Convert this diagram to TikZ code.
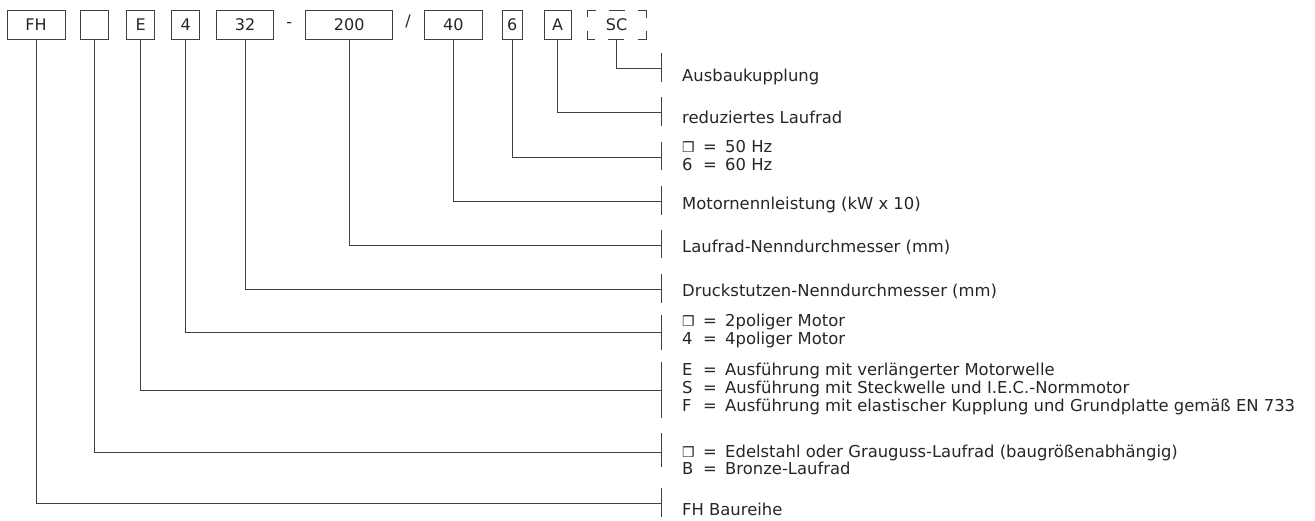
\documentclass[tikz,border=0pt]{standalone}
\usepackage{fontspec}
\setmainfont{DejaVu Sans}
\usepackage{tikz}
\usetikzlibrary{positioning}

\newcommand{\sq}{{\fontsize{14}{14}\selectfont ❒}}
\newcommand{\keyline}[2]{\makebox[21pt][l]{#1}=\hspace{8.3pt}#2}
\newcommand{\rows}[1]{\begin{tabular}[t]{@{}l@{}}#1\end{tabular}}

\begin{document}
\begin{tikzpicture}[
    x=1pt, y=-1pt,
    code/.style={rectangle, draw=black!75, line width=0.9pt,
        minimum height=29pt, inner sep=0pt,
        font=\fontsize{16}{17}\selectfont, text=black!85},
    optcode/.style={code, dash pattern=on 16pt off 13.3pt, dash phase=8pt},
    sep/.style={inner sep=0pt, font=\fontsize{16}{17}\selectfont, text=black!85},
    lbl/.style={anchor=base west, inner sep=0pt,
        font=\fontsize{16.4}{17}\selectfont, text=black!85},
    lead/.style={draw=black!75, line width=0.9pt}
]
\useasboundingbox (0,0) rectangle (1315,521);

% type code
\node[code, minimum width=58pt] (fh) at (36,24.5) {FH};
\node[code, minimum width=28pt, right=15pt of fh] (mat) {};
\node[code, minimum width=28pt, right=17pt of mat] (ausf) {E};
\node[code, minimum width=28pt, right=16pt of ausf] (pol) {4};
\node[code, minimum width=57pt, right=16pt of pol] (dn) {32};
\node[sep, right=12pt of dn] (dash) {-};
\node[code, minimum width=87pt, right=13pt of dash] (lr) {200};
\node[sep, right=12pt of lr, yshift=3pt] (slash) {/};
\node[code, minimum width=58pt, right=13pt of slash, yshift=-3pt] (kw) {40};
\node[code, minimum width=20pt, right=19pt of kw] (hz) {6};
\node[code, minimum width=27pt, right=21pt of hz] (red) {A};
\node[optcode, minimum width=59pt, right=15pt of red] (sc) {SC};

% ticks
\coordinate (k-sc)   at (661,68);
\coordinate (k-red)  at (661,112);
\coordinate (k-hz)   at (661,157);
\coordinate (k-kw)   at (661,201);
\coordinate (k-lr)   at (661,245);
\coordinate (k-dn)   at (661,289);
\coordinate (k-pol)  at (661,332);
\coordinate (k-ausf) at (661,390);
\coordinate (k-mat)  at (661,452);
\coordinate (k-fh)   at (661,503);

\draw[lead] ([yshift=15pt]k-sc) -- ([yshift=-14pt]k-sc);
\draw[lead] ([yshift=15pt]k-red) -- ([yshift=-14pt]k-red);
\draw[lead] ([yshift=15pt]k-hz) -- ([yshift=-13pt]k-hz);
\draw[lead] ([yshift=15pt]k-kw) -- ([yshift=-14pt]k-kw);
\draw[lead] ([yshift=15pt]k-lr) -- ([yshift=-13pt]k-lr);
\draw[lead] ([yshift=15pt]k-dn) -- ([yshift=-14pt]k-dn);
\draw[lead] ([yshift=17pt]k-pol) -- ([yshift=-18pt]k-pol);
\draw[lead] ([yshift=28pt]k-ausf) -- ([yshift=-28pt]k-ausf);
\draw[lead] ([yshift=19pt]k-mat) -- ([yshift=-15pt]k-mat);
\draw[lead] ([yshift=15pt]k-fh) -- ([yshift=-14pt]k-fh);

% legend texts
\node[lbl] (t-sc)   at (682,82)  {Ausbaukupplung};
\node[lbl] (t-red)  at (682,124) {reduziertes Laufrad};
\node[lbl] (t-hz)   at (682,153) {\rows{\keyline{\sq}{50 Hz}\\\keyline{6}{60 Hz}}};
\node[lbl] (t-kw)   at (682,210) {Motornennleistung (kW x 10)};
\node[lbl] (t-lr)   at (682,253) {Laufrad-Nenndurchmesser (mm)};
\node[lbl] (t-dn)   at (682,297) {Druckstutzen-Nenndurchmesser (mm)};
\node[lbl] (t-pol)  at (682,327) {\rows{\keyline{\sq}{2poliger Motor}\\\keyline{4}{4poliger Motor}}};
\node[lbl] (t-ausf) at (682,376) {\rows{\keyline{E}{Ausführung mit verlängerter Motorwelle}\\
    \keyline{S}{Ausführung mit Steckwelle und I.E.C.-Normmotor}\\
    \keyline{F}{Ausführung mit elastischer Kupplung und Grundplatte gemäß EN 733}}};
\node[lbl] (t-mat)  at (682,457) {\rows{\keyline{\sq}{Edelstahl oder Grauguss-Laufrad (baugrößenabhängig)}\\\keyline{B}{Bronze-Laufrad}}};
\node[lbl] (t-fh)   at (682,515) {FH Baureihe};

% leaders
\draw[lead] (sc.south) |- (k-sc);
\draw[lead] (red.south) |- (k-red);
\draw[lead] (hz.south) |- (k-hz);
\draw[lead] (kw.south) |- (k-kw);
\draw[lead] (lr.south) |- (k-lr);
\draw[lead] (dn.south) |- (k-dn);
\draw[lead] (pol.south) |- (k-pol);
\draw[lead] (ausf.south) |- (k-ausf);
\draw[lead] (mat.south) |- (k-mat);
\draw[lead] (fh.south) |- (k-fh);
\end{tikzpicture}
\end{document}
